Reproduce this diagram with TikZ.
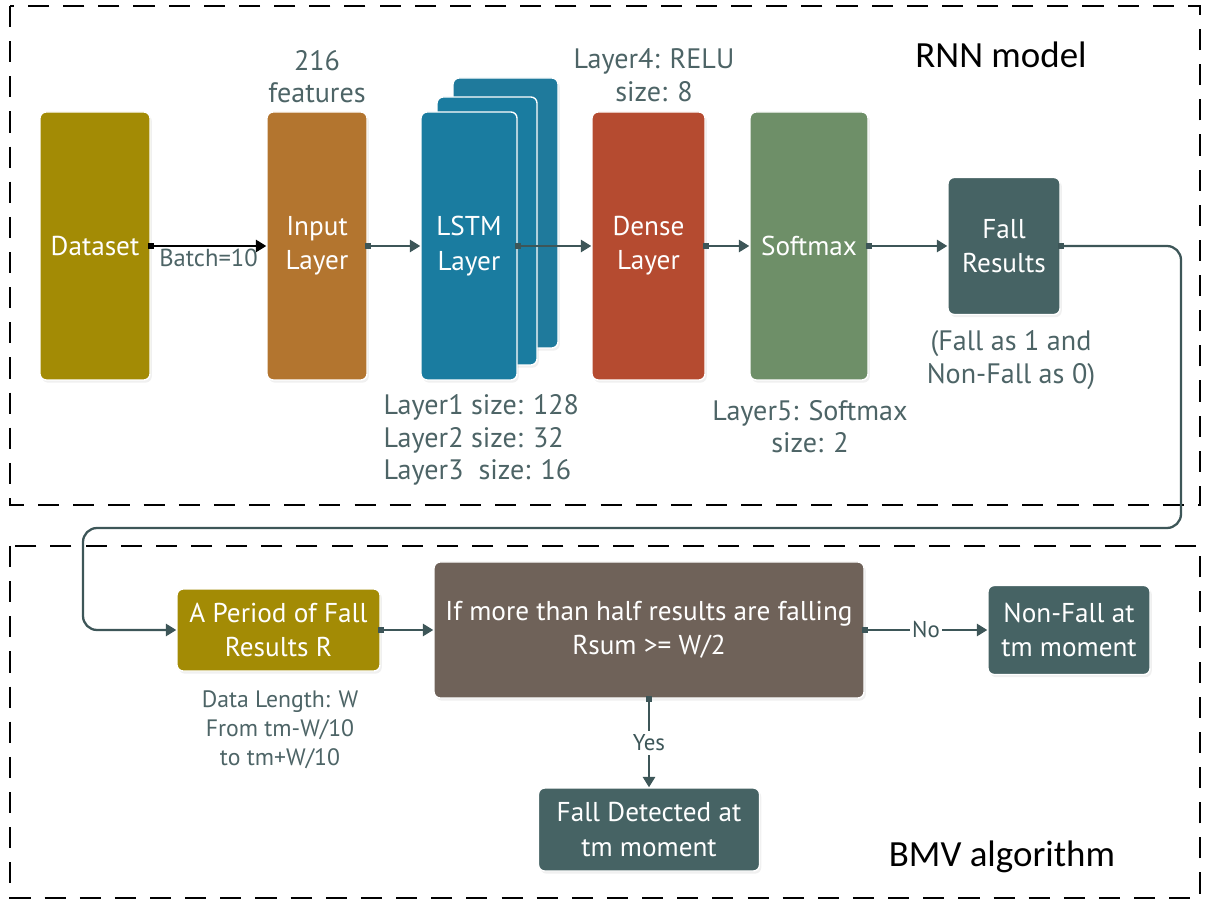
\documentclass[tikz,border=0pt]{standalone}
\usepackage{fontspec}
\setmainfont{PT Sans}
\newfontfamily\titlefont{Carlito}
\usetikzlibrary{shapes,arrows.meta,positioning,shadows}

\definecolor{dataolive}{HTML}{A38B05}
\definecolor{inputbrown}{HTML}{B3752F}
\definecolor{lstmblue}{HTML}{1A7CA0}
\definecolor{lstmback}{HTML}{1F7A9C}
\definecolor{densered}{HTML}{B54B30}
\definecolor{softgreen}{HTML}{6E8F68}
\definecolor{resteal}{HTML}{466364}
\definecolor{decibrown}{HTML}{6F6259}
\definecolor{linegray}{HTML}{3D5658}
\definecolor{notegray}{HTML}{4D6466}

\tikzset{
  block/.style={draw=white, line width=0.8pt, rectangle, rounded corners=3.5pt, text=white, align=center,
    font=\fontsize{15.5}{19.5}\selectfont, drop shadow={opacity=0.12, shadow xshift=1pt, shadow yshift=-1.5pt}},
  tall/.style={block, minimum height=5.36cm},
  note/.style={text=notegray, align=center, font=\fontsize{16}{18.5}\selectfont},
  smallnote/.style={text=notegray, align=center, font=\fontsize{13.5}{16.5}\selectfont},
  answer/.style={anchor=center, fill=white, text=linegray, font=\fontsize{13}{15}\selectfont},
  flow/.style={draw=linegray, line width=1.3pt, {Square[length=3.5pt,width=3.5pt]}-{Triangle[length=6pt,width=7pt]}, shorten <=-1.75pt},
  frame/.style={dash pattern=on 12pt off 8pt, line width=1.6pt},
}

\begin{document}
\begin{tikzpicture}[auto]
    \useasboundingbox (0,0) rectangle (24.1,-18.08);

    % Quadros
    \draw [frame] (0.2,-0.12) rectangle (24.0,-10.1);
    \draw [frame] (0.2,-10.92) rectangle (24.0,-17.96);
    \node [font=\titlefont\fontsize{21}{24}\selectfont] (rnn) at (20.02,-1.1) {RNN model};
    \node [font=\titlefont\fontsize{21}{24}\selectfont] (bmv) at (20.04,-17.14) {BMV algorithm};

    % Nos - modelo RNN
    \node [tall, fill=dataolive, minimum width=2.2cm] (dataset) at (1.9,-4.92) {Dataset};
    \node [tall, fill=inputbrown, minimum width=2cm, right of=dataset, node distance=4.44cm] (input) {Input\\Layer};
    \coordinate [right of=input, node distance=3.04cm] (lstmpos);
    \node [block, fill=lstmback, minimum width=2.1cm, minimum height=5.4cm] (lstm3) at ([shift={(0.73,0.66)}]lstmpos) {};
    \node [tall, fill=lstmblue, minimum width=2cm] (lstm2) at ([shift={(0.36,0.3)}]lstmpos) {};
    \node [tall, fill=lstmblue, minimum width=1.92cm] (lstm) at (lstmpos) {LSTM\\Layer};
    \node [tall, fill=densered, minimum width=2.26cm, right of=lstm, node distance=3.59cm] (dense) {Dense\\Layer};
    \node [tall, fill=softgreen, minimum width=2.36cm, right of=dense, node distance=3.21cm] (softmax) {Softmax};
    \node [block, fill=resteal, minimum width=2.24cm, minimum height=2.74cm, right of=softmax, node distance=3.9cm] (fall) {Fall\\Results};

    % Notas - modelo RNN
    \node [note, above of=input, node distance=3.39cm] (feat) {216\\features};
    \node [note] (relu) at (13.08,-1.5) {Layer4: RELU\\size: 8};
    \node [note, anchor=west, align=left] (sizes) at (7.55,-8.8) {Layer1 size: 128\\Layer2 size: 32\\Layer3\ \ size: 16};
    \node [note] (layer5) at (16.2,-8.53) {Layer5: Softmax\\size: 2};
    \node [note] (fallnote) at (20.22,-7.2) {(Fall as 1 and\\Non-Fall as 0)};

    % Nos - algoritmo BMV
    \node [block, fill=dataolive, minimum width=4.06cm, minimum height=1.64cm] (period) at (5.57,-12.6) {A Period of Fall\\Results R};
    \node [block, fill=decibrown, minimum width=8.6cm, minimum height=2.72cm, right of=period, node distance=7.41cm] (decision) {If more than half results are falling\\Rsum >= W/2};
    \node [block, fill=resteal, minimum width=3.24cm, minimum height=1.78cm, right of=decision, node distance=8.4cm] (nonfall) {Non-Fall at\\tm moment};
    \node [block, fill=resteal, minimum width=4.42cm, minimum height=1.66cm, below of=decision, node distance=3.99cm] (detected) {Fall Detected at\\tm moment};
    \node [smallnote] (datalen) at (5.6,-14.6) {Data Length: W\\From tm-W/10\\to tm+W/10};

    % Conexoes
    \draw [flow, draw=black] (dataset) -- node[swap, text=notegray, font=\fontsize{14}{16}\selectfont, yshift=2pt] {Batch=10} (input);
    \draw [flow] (input) -- (lstm);
    \draw [flow] (lstm) -- (dense);
    \draw [flow] (dense) -- (softmax);
    \draw [flow] (softmax) -- (fall);

    % Realimentacao
    \coordinate (fbr) at (23.62,-10.56);
    \coordinate (fbl) at (1.66,-10.56);
    \draw [flow, rounded corners=8pt] (fall.east) -| (fbr) -- (fbl) |- (period.west);

    \draw [flow] (period) -- (decision);
    \draw [flow] (decision) -- node[answer, inner sep=1pt] {No} (nonfall);
    \draw [flow] (decision) -- node[answer, inner sep=2pt] {Yes} (detected);

\end{tikzpicture}
\end{document}
